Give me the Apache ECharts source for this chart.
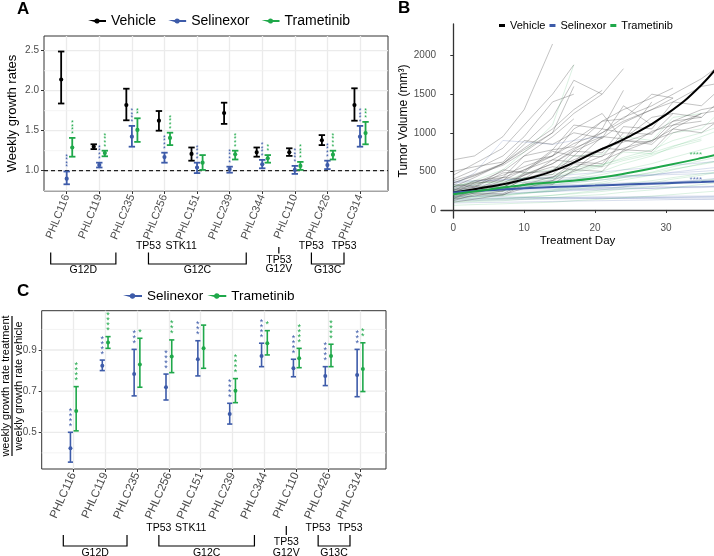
<!DOCTYPE html>
<html><head><meta charset="utf-8">
<script src="https://cdn.jsdelivr.net/npm/echarts@6/dist/echarts.min.js"></script>
<style>html,body{margin:0;padding:0;background:#fff}#c{width:714px;height:556px}</style>
</head><body><div id="c"></div>
<script>
// ---------------- DATA ----------------
const models = ['PHLC116','PHLC119','PHLC235','PHLC256','PHLC151','PHLC239','PHLC344','PHLC110','PHLC426','PHLC314'];

// Panel A: weekly growth rates (mean, lower, upper, number of significance stars)
const aVehMean = [2.14,1.30,1.82,1.625,1.21,1.72,1.23,1.23,1.38,1.82];
const aVehLo   = [1.84,1.27,1.63,1.50,1.125,1.585,1.175,1.185,1.32,1.625];
const aVehHi   = [2.49,1.33,2.025,1.746,1.29,1.85,1.29,1.28,1.445,2.03];
const aSelMean = [0.90,1.07,1.425,1.17,1.04,1.02,1.08,1.01,1.07,1.425];
const aSelLo   = [0.83,1.04,1.30,1.10,0.97,0.975,1.03,0.96,1.02,1.30];
const aSelHi   = [0.99,1.10,1.56,1.225,1.10,1.05,1.135,1.06,1.125,1.56];
const aTraMean = [1.29,1.22,1.51,1.41,1.10,1.205,1.155,1.06,1.20,1.47];
const aTraLo   = [1.175,1.18,1.36,1.32,1.01,1.14,1.10,1.01,1.14,1.33];
const aTraHi   = [1.41,1.25,1.655,1.475,1.195,1.25,1.195,1.11,1.25,1.61];
const aSelStars = [4,4,4,4,4,4,4,4,4,4];
const aTraStars = [4,4,2,4,0,4,2,4,4,3];
const aTicks = [1.0,1.5,2.0,2.5];
const aMinor = [0.75,1.25,1.75,2.25];
const aRef = [1.0];

// Panel C: ratio treatment / vehicle
const cSelMean = [0.423,0.824,0.783,0.719,0.855,0.589,0.871,0.811,0.774,0.779];
const cSelLo   = [0.355,0.80,0.677,0.657,0.774,0.54,0.819,0.77,0.727,0.673];
const cSelHi   = [0.50,0.851,0.903,0.783,0.945,0.641,0.933,0.855,0.819,0.903];
const cTraMean = [0.604,0.937,0.83,0.868,0.908,0.702,0.933,0.86,0.871,0.808];
const cTraLo   = [0.507,0.908,0.719,0.79,0.811,0.644,0.876,0.814,0.819,0.698];
const cTraHi   = [0.722,0.965,0.957,0.949,1.021,0.761,0.994,0.908,0.928,0.935];
const cSelStars = [4,4,3,4,3,4,4,4,4,3];
const cTraStars = [4,4,1,3,0,4,1,4,4,2];
const cTicks = [0.5,0.7,0.9];
const cMinor = [0.4,0.6,0.8,1.0];

// Mutation annotations
const groups = [{label:'G12D', from:0, to:2}, {label:'G12C', from:3, to:6}, {label:'G13C', from:8, to:9}];
const coMut = [{idx:3, text:'TP53'}, {idx:4, text:'STK11'}, {idx:8, text:'TP53'}, {idx:9, text:'TP53'}];
const single = {idx:7, lines:['TP53','G12V']};

// Panel B: tumor volume trajectories
const days = [0,3,7,10,14,17,21,24,28,31,35,38];
const vehTraj = [
  [650,700,950,1300,2150],
  [300,420,600,850,1200,1680,1500,1830],
  [250,380,420,700,780,1100,1050,1550],
  [200,260,380,520,700,900,1150,1300,1450,1580],
  [180,240,330,450,600,780,1000,1150,1300,1400,1600,1650],
  [350,450,580,750,1000,1250,1500],
  [150,260,240,420,460,700,690,1000,980,1250,1200,1450],
  [280,350,500,700,950,1180],
  [220,350,380,620,700,1050,1250,900,1400],
  [120,200,190,330,380,600,560,900,850,1100,1150],
  [400,520,700,950,1400,1500],
  [260,290,480,500,780,820,1150,1180,1500,1450],
  [170,220,300,400,520,650,800,880,1000,1150,1300,1350],
  [450,600,800,1100,1500,1880],
  [200,300,280,480,500,760,740,1080,1050,1400,1350,1600],
  [140,180,250,330,430,550,700,800,900,1000,1100,1150],
  [380,460,600,800,1050,1300,1550],
  [230,260,420,400,650,620,950,920,1200,1250],
  [100,140,200,280,380,500,640,760,900,1050,1250],
  [300,360,450,560,700,860,1000,1200,1350,1500,1700,1900],
  [190,280,260,400,420,620,600,900,880,1150,1200],
  [260,330,420,520,650,800,950],
  [150,220,210,350,330,520,500,780,760,1050,1000,1200],
  [350,440,600,780,1000,1600],
  [210,270,350,460,600,760,930,1130,1300,1450],
  [500,560,620,900,850,1000,930,1350,1100],
  [330,300,520,480,760,700,1050,1000],
  [240,310,290,450,560,520,800,780,1020,1100,1250,1300]
];
const traTraj = [
  [200,220,260,300,350,400,460,520,600,680,780,850],
  [300,360,350,480,520,700,720,950,900,1200,1250],
  [150,160,180,210,250,290,340,390,450,520,600,650],
  [250,270,310,360,420,500,580,680,780,900,1000,1100],
  [180,190,200,220,240,270,300,340,380,420,470,500],
  [100,110,120,140,160,180,200,230,260,290,330,360],
  [220,240,280,330,400,480,560,640,720,800,900],
  [300,380,520,750,1100,1880],
  [130,140,150,170,190,210,240,270,300,340,380,410],
  [270,320,300,420,410,560,580,750,730,1000,1050,1300],
  [160,170,190,220,260,310,360,420,490,560,640,700],
  [60,70,80,90,100,120,140,160,180,200,230,250],
  [240,250,270,290,320,350,390,430,480,530,590,640],
  [190,210,240,290,350,420,500,600,700,820,950,1050],
  [320,340,370,410,460,520,590,660,740,830,920],
  [110,120,140,160,190,220,260,300,350,400,450,500]
];
const selTraj = [
  [200,210,220,230,240,250,260,270,280,290,300,310],
  [300,320,340,360,380,400,420,440,460,480,500,520],
  [150,150,155,160,160,165,170,170,175,180,180,185],
  [320,480,900,880,850,900,950],
  [180,175,170,165,160,160,155,150,150,145,140,140],
  [350,370,390,410,430,460,490,520,550,580,610,640],
  [120,125,130,135,140,145,150,155,160,165,170,175],
  [280,290,300,310,320,330,340,350,360,370,380,390],
  [220,240,270,300,330,360,390,420,450,490,530,560],
  [90,95,100,105,110,115,120,125,130,135,140,145],
  [260,265,270,275,280,285,290,295,300,300,305,310],
  [370,380,390,400,410,420,430,440,450,460,470,480],
  [170,180,200,220,240,260,280,300,330,360,390,420],
  [240,250,250,260,260,270,270,280,280,290,290,300],
  [140,140,145,150,150,150,155,155,160,160,165,165]
];
// Fitted curves
const fitDays = [0,5,10,15,20,25,30,35,38];
const vehFit = [225,300,395,535,750,960,1235,1620,1950];
const traFit = [205,265,325,365,411,485,575,672,735];
const selFit = [225,255,282,300,316,332,347,362,372];
const bStars = [{day:34.2, value:715, text:'****', which:'tra'}, {day:34.2, value:395, text:'****', which:'sel'}];
const bXTicks = [0,10,20,30];
const bYTicks = [0,500,1000,1500,2000];

// ---------------- STYLE ----------------
const FONT = 'Liberation Sans, Arial, sans-serif';
const VEH = '#000000', SEL = '#3D5BA9', TRA = '#1FA84A';
const GRIDC = '#ebebeb';

const chart = echarts.init(document.getElementById('c'), null, {renderer:'canvas'});

function errRender(dodge, color, capHalf, lw, ptR, starSize, starGap, starOff) {
  return function (params, api) {
    const i = api.value(0), m = api.value(1), lo = api.value(2), hi = api.value(3), ns = api.value(4);
    const bw = api.size([1, 0])[0];
    const pm = api.coord([i, m]), pl = api.coord([i, lo]), ph = api.coord([i, hi]);
    const x = pm[0] + dodge * bw;
    const st = {stroke: color, lineWidth: lw};
    const ch = [
      {type:'line', shape:{x1:x, y1:pl[1], x2:x, y2:ph[1]}, style:st},
      {type:'line', shape:{x1:x-capHalf, y1:pl[1], x2:x+capHalf, y2:pl[1]}, style:st},
      {type:'line', shape:{x1:x-capHalf, y1:ph[1], x2:x+capHalf, y2:ph[1]}, style:st},
      {type:'circle', shape:{cx:x, cy:pm[1], r:ptR}, style:{fill:color}}
    ];
    for (let k = 0; k < ns; k++) {
      ch.push({type:'text', style:{text:'*', x:x, y:ph[1] - starOff - starGap*k, fill:color, fontSize:starSize,
        fontFamily:FONT, align:'center', verticalAlign:'middle'}});
    }
    return {type:'group', children:ch};
  };
}
function hLines(color, width, dash) {
  return function (params, api) {
    const cs = params.coordSys;
    const y = api.coord([0, api.value(1)])[1];
    return {type:'line', shape:{x1:cs.x, y1:y, x2:cs.x + cs.width, y2:y},
      style:{stroke:color, lineWidth:width, lineDash:dash || null}};
  };
}
const errData = (mean, lo, hi, stars) => models.map((c, i) => [i, mean[i], lo[i], hi[i], stars[i]]);
const hData = arr => arr.map(v => [0.5, v]);

const A = {left:44, top:36, right:388, bottom:191, c0:66.7, c1:360, min:0.746, max:2.684};
const C = {left:41.7, top:310.7, right:386, bottom:469, c0:73.3, c1:360, min:0.3216, max:1.091};
const B = {left:441, top:24, bottom:218, xmin:-1.73, xmax:36.77, ymin:-104, ymax:2409};

const axisLbl = {color:'#4d4d4d', fontSize:10, fontFamily:FONT};

const series = [];
// Panel A back
series.push({type:'custom', name:'gA1', xAxisIndex:0, yAxisIndex:0, data:hData(aMinor), renderItem:hLines('#f0f0f0',0.8), silent:true, z:1});
series.push({type:'custom', name:'gA2', xAxisIndex:0, yAxisIndex:0, data:hData(aTicks), renderItem:hLines(GRIDC,1.3), silent:true, z:1});
series.push({type:'custom', name:'refA', xAxisIndex:0, yAxisIndex:0, data:hData(aRef), renderItem:hLines('#222',1.3,[4,3]), silent:true, z:3});
series.push({type:'custom', name:'Vehicle', xAxisIndex:1, yAxisIndex:1, itemStyle:{color:VEH}, data:errData(aVehMean,aVehLo,aVehHi,models.map(()=>0)), renderItem:errRender(-0.17,VEH,3.2,1.8,2.1,7,3.6,4), z:5});
series.push({type:'custom', name:'Selinexor', xAxisIndex:1, yAxisIndex:1, itemStyle:{color:SEL}, data:errData(aSelMean,aSelLo,aSelHi,aSelStars), renderItem:errRender(0,SEL,3.2,1.8,2.1,7,3.6,4), z:5});
series.push({type:'custom', name:'Trametinib', xAxisIndex:1, yAxisIndex:1, itemStyle:{color:TRA}, data:errData(aTraMean,aTraLo,aTraHi,aTraStars), renderItem:errRender(0.17,TRA,3.2,1.8,2.1,7,3.6,4), z:5});
// Panel C back
series.push({type:'custom', name:'gC1', xAxisIndex:3, yAxisIndex:3, data:hData(cMinor), renderItem:hLines('#f0f0f0',0.8), silent:true, z:1});
series.push({type:'custom', name:'gC2', xAxisIndex:3, yAxisIndex:3, data:hData(cTicks), renderItem:hLines(GRIDC,1.3), silent:true, z:1});
series.push({type:'custom', name:'Selinexor', xAxisIndex:4, yAxisIndex:4, itemStyle:{color:SEL}, data:errData(cSelMean,cSelLo,cSelHi,cSelStars), renderItem:errRender(-0.09,SEL,2.6,1.6,2,9,5,6), z:5});
series.push({type:'custom', name:'Trametinib', xAxisIndex:4, yAxisIndex:4, itemStyle:{color:TRA}, data:errData(cTraMean,cTraLo,cTraHi,cTraStars), renderItem:errRender(0.09,TRA,2.6,1.6,2,9,5,6), z:5});
// Panel B spaghetti
function trajSeries(list, color, nm) {
  list.forEach((vals, k) => {
    series.push({type:'line', name:nm + k, xAxisIndex:2, yAxisIndex:2, showSymbol:false, silent:true, z:2,
      data: vals.map((v, j) => [days[j], v]), lineStyle:{color:color, width:0.9}, itemStyle:{color:color}, clip:true});
  });
}
trajSeries(selTraj, 'rgba(61,91,169,0.22)', 'bs');
trajSeries(traTraj, 'rgba(31,168,74,0.18)', 'bt');
trajSeries(vehTraj, 'rgba(60,60,60,0.35)', 'bv');
series.push({type:'line', name:'Vehicle', xAxisIndex:2, yAxisIndex:2, smooth:true, showSymbol:false, z:6, clip:true,
  data: fitDays.map((d,j)=>[d, vehFit[j]]), lineStyle:{color:VEH, width:2}, itemStyle:{color:VEH}});
series.push({type:'line', name:'Selinexor', xAxisIndex:2, yAxisIndex:2, smooth:true, showSymbol:false, z:6, clip:true,
  data: fitDays.map((d,j)=>[d, selFit[j]]), lineStyle:{color:SEL, width:2}, itemStyle:{color:SEL}});
series.push({type:'line', name:'Trametinib', xAxisIndex:2, yAxisIndex:2, smooth:true, showSymbol:false, z:6, clip:true,
  data: fitDays.map((d,j)=>[d, traFit[j]]), lineStyle:{color:TRA, width:2}, itemStyle:{color:TRA}});
series.push({type:'scatter', name:'starsB', xAxisIndex:2, yAxisIndex:2, symbolSize:0, silent:true, z:7,
  data: bStars.map(s => ({value:[s.day, s.value], label:{show:true, formatter:s.text, position:'inside',
    color: s.which === 'tra' ? TRA : SEL, fontSize:8, fontFamily:FONT}}))});

const lineDotIcon = 'path://M0,2.8 L8.7,2.8 A3.6,3.6 0 0 1 15.3,2.8 L24,2.8 L24,5.2 L15.3,5.2 A3.6,3.6 0 0 1 8.7,5.2 Z';

const option = {
  backgroundColor:'#fff',
  animation:false,
  textStyle:{fontFamily:FONT},
  grid: [
    {left:A.left, top:A.top, width:A.right-A.left, height:A.bottom-A.top, show:true, borderColor:'#333', borderWidth:1, backgroundColor:'transparent', z:0},
    {left:A.c0, top:A.top, width:A.c1-A.c0, height:A.bottom-A.top},
    {left:B.left, top:B.top, right:0, height:B.bottom-B.top},
    {left:C.left, top:C.top, width:C.right-C.left, height:C.bottom-C.top, show:true, borderColor:'#333', borderWidth:1, backgroundColor:'transparent', z:0},
    {left:C.c0, top:C.top, width:C.c1-C.c0, height:C.bottom-C.top}
  ],
  xAxis: [
    {gridIndex:0, type:'value', min:0, max:1, show:false},
    {gridIndex:1, type:'category', data:models, boundaryGap:false, axisLine:{show:false},
      axisTick:{show:true, length:3, lineStyle:{color:'#333'}},
      axisLabel:{rotate:68, interval:0, margin:4, color:'#4d4d4d', fontSize:11, fontFamily:FONT},
      splitLine:{show:true, lineStyle:{color:GRIDC, width:1.3}}},
    {gridIndex:2, type:'value', min:B.xmin, max:B.xmax, name:'Treatment Day', nameLocation:'middle', nameGap:17,
      nameTextStyle:{color:'#000', fontSize:11.5, fontFamily:FONT},
      axisLine:{show:true, lineStyle:{color:'#333', width:1.3}},
      axisTick:{show:true, length:3, customValues:bXTicks, lineStyle:{color:'#333'}},
      axisLabel:Object.assign({customValues:bXTicks, margin:5, formatter:v=>String(v)}, axisLbl), splitLine:{show:false}},
    {gridIndex:3, type:'value', min:0, max:1, show:false},
    {gridIndex:4, type:'category', data:models, boundaryGap:false, axisLine:{show:false},
      axisTick:{show:true, length:3, lineStyle:{color:'#333'}},
      axisLabel:{rotate:66, interval:0, margin:4, color:'#4d4d4d', fontSize:11.5, fontFamily:FONT},
      splitLine:{show:true, lineStyle:{color:GRIDC, width:1.3}}}
  ],
  yAxis: [
    {gridIndex:0, type:'value', min:A.min, max:A.max, name:'Weekly growth rates', nameLocation:'middle', nameGap:25,
      nameTextStyle:{color:'#000', fontSize:13, fontFamily:FONT},
      axisLine:{show:false}, axisTick:{show:true, length:3, customValues:aTicks, lineStyle:{color:'#333'}},
      axisLabel:Object.assign({customValues:aTicks, margin:5, formatter:v=>v.toFixed(1)}, axisLbl), splitLine:{show:false}},
    {gridIndex:1, type:'value', min:A.min, max:A.max, show:false, splitLine:{show:false}},
    {gridIndex:2, type:'value', min:B.ymin, max:B.ymax, name:'Tumor Volume (mm³)', nameLocation:'middle', nameGap:30,
      nameTextStyle:{color:'#000', fontSize:12, fontFamily:FONT},
      axisLine:{show:true, lineStyle:{color:'#333', width:1.3}},
      axisTick:{show:true, length:3, customValues:bYTicks, lineStyle:{color:'#333'}},
      axisLabel:Object.assign({customValues:bYTicks, margin:5, formatter:v=>String(v)}, axisLbl), splitLine:{show:false}},
    {gridIndex:3, type:'value', min:C.min, max:C.max,
      axisLine:{show:false}, axisTick:{show:true, length:3, customValues:cTicks, lineStyle:{color:'#333'}},
      axisLabel:Object.assign({customValues:cTicks, margin:5, formatter:v=>v.toFixed(1)}, axisLbl), splitLine:{show:false}},
    {gridIndex:4, type:'value', min:C.min, max:C.max, show:false, splitLine:{show:false}}
  ],
  legend: [
    {data:['Vehicle','Selinexor','Trametinib'], left:88, top:14, padding:0, itemGap:12, itemWidth:18, itemHeight:7,
      icon:lineDotIcon, selectedMode:false, textStyle:{fontSize:14, color:'#000', fontFamily:FONT}},
    {data:['Vehicle','Selinexor','Trametinib'], left:499, top:20, padding:0, itemGap:4, itemWidth:6, itemHeight:3,
      icon:'rect', selectedMode:false, textStyle:{fontSize:11, color:'#000', fontFamily:FONT}},
    {data:['Selinexor','Trametinib'], left:123, top:289, padding:0, itemGap:4, itemWidth:19, itemHeight:7,
      icon:lineDotIcon, selectedMode:false, textStyle:{fontSize:13.5, color:'#000', fontFamily:FONT}}
  ],
  series: series
};
chart.setOption(option);

// ---------- annotations (panel letters, mutation brackets, C axis title) ----------
const g = [];
const letter = (t, x, y) => g.push({type:'text', style:{text:t, x:x, y:y, fontSize:17, fontWeight:'bold', fill:'#000', fontFamily:FONT}});
letter('A', 17, 1); letter('B', 398, 0); letter('C', 17, 283);

function annot(xAxisIndex, off, yCo, yTick, yBar, yLab, ySingle1, ySingle2, ySingleLine) {
  const px = i => chart.convertToPixel({xAxisIndex:xAxisIndex}, i) + off;
  const txt = (t, x, y) => g.push({type:'text', style:{text:t, x:x, y:y, align:'center', verticalAlign:'middle', fontSize:10.5, fill:'#000', fontFamily:FONT}});
  coMut.forEach(c => txt(c.text, px(c.idx), yCo));
  groups.forEach(gr => {
    const x1 = px(gr.from), x2 = px(gr.to);
    g.push({type:'polyline', shape:{points:[[x1,yTick],[x1,yBar],[x2,yBar],[x2,yTick]]}, style:{stroke:'#000', lineWidth:1.2, fill:null}});
    txt(gr.label, (x1+x2)/2, yLab);
  });
  const xs = px(single.idx);
  g.push({type:'line', shape:{x1:xs, y1:ySingleLine[0], x2:xs, y2:ySingleLine[1]}, style:{stroke:'#000', lineWidth:1.2}});
  txt(single.lines[0], xs, ySingle1); txt(single.lines[1], xs, ySingle2);
}
annot(1, -16, 246, 252.5, 264, 270.5, 260, 269.5, [247, 253.5]);
annot(4, -10, 528.5, 535, 546, 553, 542.5, 553, [526, 535]);

// C y-axis title as a fraction
g.push({type:'group', x:12, y:386, rotation:Math.PI/2, children:[
  {type:'text', style:{text:'weekly growth rate treatment', x:0, y:-1, align:'center', verticalAlign:'bottom', fontSize:11, fill:'#000', fontFamily:FONT}},
  {type:'line', shape:{x1:-70, y1:0, x2:70, y2:0}, style:{stroke:'#000', lineWidth:1.2}},
  {type:'text', style:{text:'weekly growth rate vehicle', x:0, y:1, align:'center', verticalAlign:'top', fontSize:11, fill:'#000', fontFamily:FONT}}
]});
chart.setOption({graphic:g});
</script></body></html>
